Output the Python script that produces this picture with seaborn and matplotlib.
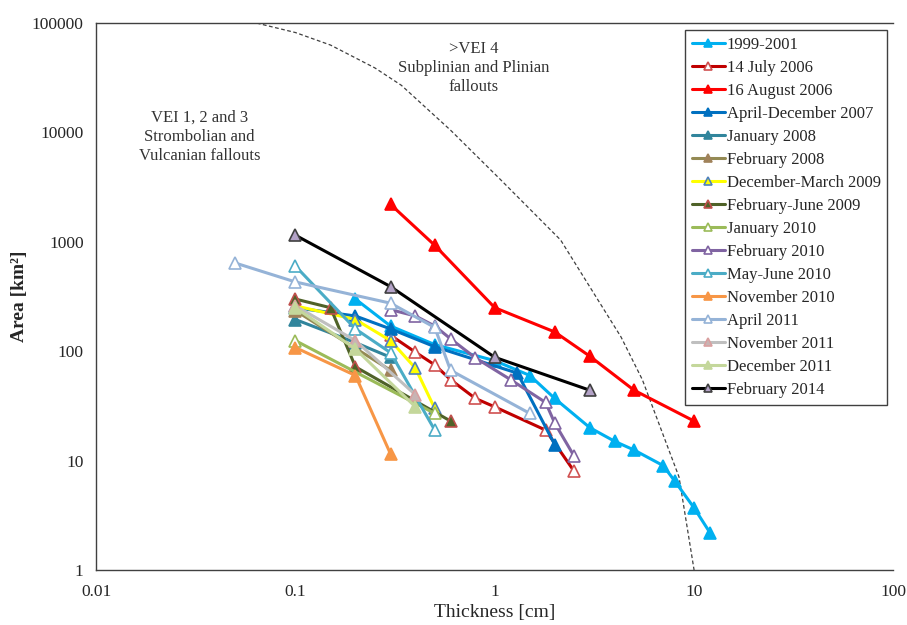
import matplotlib
matplotlib.use("Agg")
import matplotlib.pyplot as plt
import seaborn as sns
from matplotlib.ticker import FixedLocator, LogLocator, NullFormatter

# thickness (cm) / area (km2) for each fallout
t_1999 = [0.2, 0.3, 0.5, 1, 1.5, 2, 3, 4, 5, 7, 8, 10, 12]
a_1999 = [300, 170, 115, 82, 60, 37, 20, 15, 12.5, 9, 6.5, 3.7, 2.2]
t_jul06 = [0.3, 0.4, 0.5, 0.6, 0.8, 1, 1.8, 2.5]
a_jul06 = [140, 98, 75, 55, 37, 31, 19, 8]
t_aug06 = [0.3, 0.5, 1, 2, 3, 5, 10]
a_aug06 = [2200, 930, 250, 150, 90, 44, 23]
t_2007 = [0.1, 0.2, 0.3, 0.5, 1.3, 2]
a_2007 = [250, 210, 160, 110, 63, 14]
t_jan08 = [0.1, 0.2, 0.3]
a_jan08 = [195, 120, 88]
t_feb08 = [0.1, 0.3]
a_feb08 = [235, 67]
t_decmar09 = [0.1, 0.2, 0.3, 0.4, 0.5]
a_decmar09 = [260, 195, 125, 70, 30]
t_febjun09 = [0.1, 0.15, 0.2, 0.6]
a_febjun09 = [300, 250, 72, 23]
t_jan10 = [0.1, 0.5]
a_jan10 = [125, 27]
t_feb10 = [0.3, 0.4, 0.5, 0.6, 0.8, 1.2, 1.8, 2, 2.5]
a_feb10 = [240, 210, 170, 130, 87, 55, 34, 22, 11]
t_may10 = [0.1, 0.2, 0.3, 0.5]
a_may10 = [600, 160, 97, 19]
t_nov10 = [0.1, 0.2, 0.3]
a_nov10 = [108, 60, 11.5]
t_apr11 = [0.05, 0.1, 0.3, 0.5, 0.6, 1.5]
a_apr11 = [640, 430, 275, 165, 67, 27]
t_nov11 = [0.1, 0.2, 0.4]
a_nov11 = [260, 125, 40]
t_dec11 = [0.1, 0.2, 0.4]
a_dec11 = [250, 105, 31]
t_feb14 = [0.1, 0.3, 1, 3]
a_feb14 = [1150, 390, 88, 44]

# VEI boundary (dashed)
t_vei = [0.064, 0.1, 0.15, 0.25, 0.34, 0.6, 1.07, 2.14, 4.3, 5.5, 8.4, 10]
a_vei = [100000, 82000, 63000, 39000, 27000, 10500, 3700, 1040, 135, 55, 7.1, 1]

# label, t, a, line colour, marker face, marker edge
series = [
    ("1999-2001", t_1999, a_1999, "#00B0F0", "#00B0F0", "#00B0F0"),
    ("14 July 2006", t_jul06, a_jul06, "#C00000", "white", "#D05050"),
    ("16 August 2006", t_aug06, a_aug06, "#FF0000", "#FF0000", "#FF0000"),
    ("April-December 2007", t_2007, a_2007, "#0070C0", "#0070C0", "#0070C0"),
    ("January 2008", t_jan08, a_jan08, "#31859C", "#31859C", "#31859C"),
    ("February 2008", t_feb08, a_feb08, "#948A54", "#A0825A", "#A0825A"),
    ("December-March 2009", t_decmar09, a_decmar09, "#FFFF00", "#FFFF00", "#4F81BD"),
    ("February-June 2009", t_febjun09, a_febjun09, "#4F6228", "#4F6228", "#C0504D"),
    ("January 2010", t_jan10, a_jan10, "#9BBB59", "white", "#9BBB59"),
    ("February 2010", t_feb10, a_feb10, "#8064A2", "white", "#8064A2"),
    ("May-June 2010", t_may10, a_may10, "#4BACC6", "white", "#4BACC6"),
    ("November 2010", t_nov10, a_nov10, "#F79646", "#F79646", "#F79646"),
    ("April 2011", t_apr11, a_apr11, "#95B3D7", "white", "#95B3D7"),
    ("November 2011", t_nov11, a_nov11, "#BFBFBF", "#C8B4B4", "#D9A0A0"),
    ("December 2011", t_dec11, a_dec11, "#C4D79B", "#C4D79B", "#C4D79B"),
    ("February 2014", t_feb14, a_feb14, "#000000", "#B3A2C7", "#404040"),
]

sns.set_style("white")
plt.rcParams["font.family"] = ["Liberation Serif", "DejaVu Serif"]

fig, ax = plt.subplots(figsize=(9.07, 6.25), dpi=100)
fig.subplots_adjust(left=0.106, right=0.985, bottom=0.088, top=0.963)

ax.plot(t_vei, a_vei, color="#404040", linestyle=(0, (3, 2)), linewidth=0.9, zorder=1)

for label, t, a, col, face, edge in series:
    sns.lineplot(x=t, y=a, ax=ax, color=col, linewidth=2.2, marker="^",
                 markersize=8, markerfacecolor=face, markeredgecolor=edge,
                 markeredgewidth=1.2, label=label, sort=False, estimator=None)

ax.set_xscale("log")
ax.set_yscale("log")
ax.set_xlim(0.01, 100)
ax.set_ylim(1, 100000)

xt = [0.01, 0.1, 1, 10, 100]
yt = [1, 10, 100, 1000, 10000, 100000]
ax.xaxis.set_major_locator(FixedLocator(xt))
ax.set_xticklabels(["0.01", "0.1", "1", "10", "100"])
ax.yaxis.set_major_locator(FixedLocator(yt))
ax.set_yticklabels([str(v) for v in yt])
ax.xaxis.set_minor_locator(LogLocator(base=10, subs=range(2, 10)))
ax.yaxis.set_minor_locator(LogLocator(base=10, subs=range(2, 10)))
ax.xaxis.set_minor_formatter(NullFormatter())
ax.yaxis.set_minor_formatter(NullFormatter())
ax.tick_params(which="major", direction="in", length=5, width=0.8, labelsize=12.5)
ax.tick_params(axis="x", which="major", pad=10)
ax.tick_params(axis="y", which="major", pad=9)
ax.tick_params(which="minor", direction="in", length=3, width=0.6)
ax.tick_params(axis="x", top=False)
ax.tick_params(axis="y", right=False)

for s in ["left", "bottom", "top"]:
    ax.spines[s].set_color("#404040")
    ax.spines[s].set_linewidth(1)
ax.spines["right"].set_visible(False)

ax.set_xlabel("Thickness [cm]", fontsize=14, labelpad=3)
ax.set_ylabel("Area [km\u00b2]", fontsize=14, fontweight="bold", labelpad=3)

ax.text(0.033, 9100, "VEI 1, 2 and 3\nStrombolian and\nVulcanian fallouts",
        ha="center", va="center", fontsize=12, color="#333333", linespacing=1.25)
ax.text(0.785, 39000, ">VEI 4\nSubplinian and Plinian\nfallouts",
        ha="center", va="center", fontsize=12, color="#333333", linespacing=1.25)

leg = ax.legend(loc="upper right", bbox_to_anchor=(0.9925, 0.987), fontsize=12,
                frameon=True, fancybox=False, edgecolor="#404040",
                handlelength=2.0, handletextpad=0.1, labelspacing=0.42,
                borderpad=0.4, borderaxespad=0, markerscale=0.8, framealpha=1)
leg.get_frame().set_linewidth(1)

plt.savefig("out.png", dpi=100)
